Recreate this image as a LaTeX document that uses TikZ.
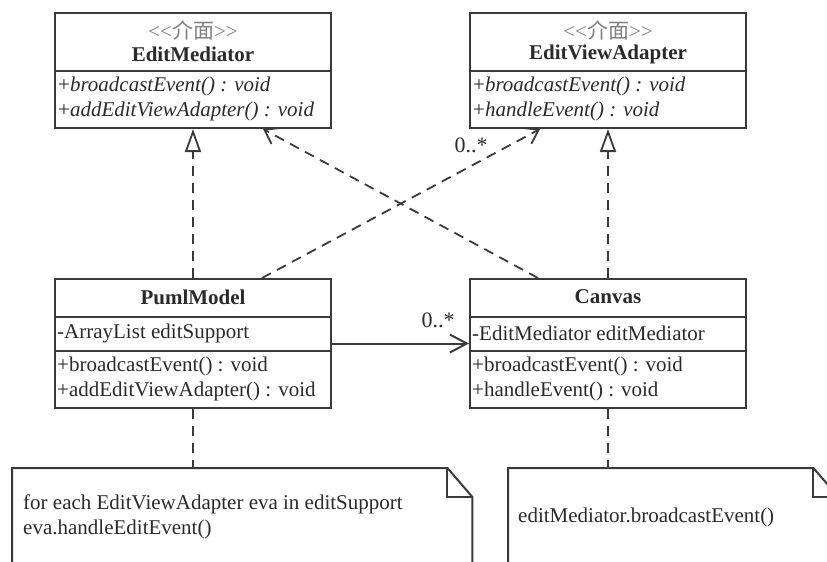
\documentclass[tikz,border=0pt]{standalone}
\usepackage{fontspec}
\setmainfont{LiberationSerif}[
  Extension=.ttf,
  UprightFont=*-Regular,
  BoldFont=*-Bold,
  ItalicFont=*-Italic,
  BoldItalicFont=*-BoldItalic]
\newfontfamily\cjk{Noto Sans CJK TC}
\usetikzlibrary{arrows.meta,positioning}

\definecolor{umlline}{HTML}{3A3A3A}
\definecolor{umltext}{HTML}{2A2A2A}
\definecolor{umlgray}{HTML}{808080}

\newcommand\ifacestereo{<\kern0pt<{\cjk 介面}>\kern0pt>}
\newcommand\absop[1]{+\textit{#1}}

\tikzset{
  classbox/.style={draw=umlline, line width=2pt, minimum width=276pt, inner sep=0pt},
  sepline/.style={draw=umlline, line width=2pt},
  stereotext/.style={inner sep=0pt, text=umlgray, font=\fontsize{21}{25}\selectfont},
  classname/.style={inner sep=0pt, text=umltext, font=\fontsize{21}{25}\selectfont\bfseries},
  member/.style={anchor=west, inner sep=0pt, text=umltext, font=\fontsize{21}{25}\selectfont},
  multi/.style={inner sep=0pt, text=umltext, font=\fontsize{22}{26}\selectfont},
  notebox/.style={minimum height=140pt, inner sep=0pt, anchor=north west},
  noteline/.style={draw=umlline, line width=2pt},
  notetext/.style={anchor=west, align=left, inner sep=0pt, text=umltext, font=\fontsize{21}{25}\selectfont},
  realize/.style={draw=umlline, line width=1.8pt, dash pattern=on 10pt off 7pt,
    -{Triangle[open, length=23pt, width=16pt, fill=white]}},
  depend/.style={draw=umlline, line width=1.8pt, dash pattern=on 10pt off 7pt,
    -{Straight Barb[length=13pt, width=18pt]}},
  assoc/.style={draw=umlline, line width=2pt, -{Straight Barb[length=17pt, width=18pt]}},
  notelink/.style={draw=umlline, line width=1.8pt, dash pattern=on 10pt off 7pt}
}

\begin{document}
\begin{tikzpicture}[x=1pt,y=-1pt]
\useasboundingbox (0,0) rectangle (827,562);
\clip (0,0) rectangle (827,562);

% interfaces
\node[classbox, minimum height=115pt] (editmed) at (193,70.5) {};
\draw[sepline] (editmed.west |- 0,71) -- (editmed.east |- 0,71);
\node[stereotext] (editmedst) at (193,30) {\ifacestereo};
\node[classname] (editmedname) at (193,54) {EditMediator};
\node[member] (editmedop1) at (58,86) {\absop{broadcastEvent() : void}};
\node[member] (editmedop2) at (58,111) {\absop{addEditViewAdapter() : void}};

\node[classbox, minimum height=115pt] (editview) at (608,70.5) {};
\draw[sepline] (editview.west |- 0,71) -- (editview.east |- 0,71);
\node[stereotext] (editviewst) at (608,30) {\ifacestereo};
\node[classname] (editviewname) at (608,54) {EditViewAdapter};
\node[member] (editviewop1) at (473,86) {\absop{broadcastEvent() : void}};
\node[member] (editviewop2) at (473,111) {\absop{handleEvent() : void}};

% classes
\node[classbox, minimum height=129pt] (puml) at (193,343.5) {};
\draw[sepline] (puml.west |- 0,317) -- (puml.east |- 0,317);
\draw[sepline] (puml.west |- 0,351) -- (puml.east |- 0,351);
\node[classname] (pumlname) at (193,297) {PumlModel};
\node[member] (pumlattr) at (57,333) {-ArrayList editSupport};
\node[member] (pumlop1) at (57,366) {+broadcastEvent() : void};
\node[member] (pumlop2) at (57,391) {+addEditViewAdapter() : void};

\node[classbox, minimum height=129pt] (canvas) at (608,343.5) {};
\draw[sepline] (canvas.west |- 0,317) -- (canvas.east |- 0,317);
\draw[sepline] (canvas.west |- 0,351) -- (canvas.east |- 0,351);
\node[classname] (canvasname) at (608,297) {Canvas};
\node[member] (canvasattr) at (472,333) {-EditMediator editMediator};
\node[member] (canvasop1) at (472,366) {+broadcastEvent() : void};
\node[member] (canvasop2) at (472,391) {+handleEvent() : void};

% notes
\node[notebox, minimum width=460pt] (pumlnote) at (12,468) {};
\draw[noteline] (pumlnote.south west) -- (pumlnote.north west)
  -- ([xshift=-25pt]pumlnote.north east) -- ([yshift=-29pt]pumlnote.north east)
  -- (pumlnote.south east);
\draw[noteline] ([xshift=-25pt]pumlnote.north east) |- ([yshift=-29pt]pumlnote.north east);
\node[notetext] (pumlnotetext) at (23,517) {for each EditViewAdapter eva in editSupport\\eva.handleEditEvent()};

\node[notebox, minimum width=330pt] (canvasnote) at (508,468) {};
\draw[noteline] (canvasnote.south west) -- (canvasnote.north west)
  -- ([xshift=-25pt]canvasnote.north east) -- ([yshift=-29pt]canvasnote.north east)
  -- (canvasnote.south east);
\draw[noteline] ([xshift=-25pt]canvasnote.north east) |- ([yshift=-29pt]canvasnote.north east);
\node[notetext] (canvasnotetext) at (518,517) {editMediator.broadcastEvent()};

% connectors
\draw[realize] (puml.north) -- (editmed.south);
\draw[realize] (canvas.north) -- (editview.south);
\draw[depend] ([xshift=69pt]puml.north) -- ([xshift=-68pt]editview.south);
\draw[depend] ([xshift=-70pt]canvas.north) -- ([xshift=70pt]editmed.south);
\draw[assoc] (puml.east) -- (canvas.west);
\draw[notelink] (puml.south) -- (puml.south |- pumlnote.north);
\draw[notelink] (canvas.south) -- (canvas.south |- canvasnote.north);

\node[multi] (viewmulti) at (471,145) {0..*};
\node[multi] (canvasmulti) at (438,320) {0..*};
\end{tikzpicture}
\end{document}
